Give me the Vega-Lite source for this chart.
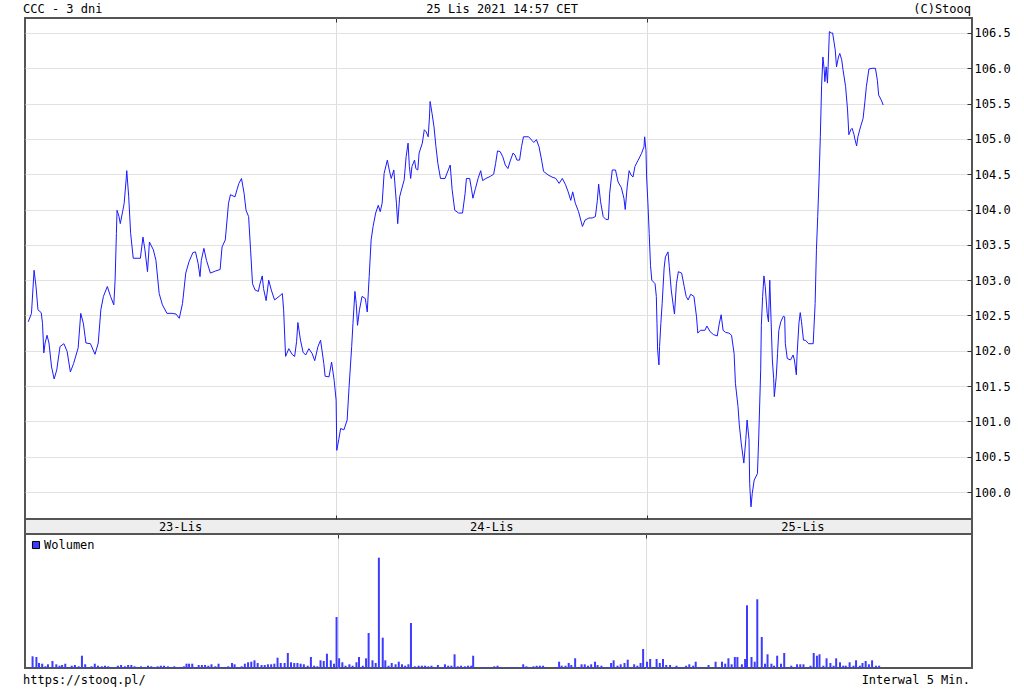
{
  "$schema": "https://vega.github.io/schema/vega-lite/v6.json",
  "background": "white",
  "padding": {"left": 23, "top": 0, "right": 0, "bottom": 0},
  "spacing": 0,
  "bounds": "flush",
  "resolve": {"scale": {"color": "independent"}, "legend": {"color": "independent"}},
  "config": {
    "view": {"stroke": null},
    "font": "DejaVu Sans Mono",
    "text": {"font": "DejaVu Sans Mono", "fontSize": 12, "color": "#000000"}
  },
  "datasets": {
    "header": [
      {"label": "CCC - 3 dni", "pos": "left"},
      {"label": "25 Lis 2021 14:57 CET", "pos": "center"},
      {"label": "(C)Stooq", "pos": "right"}
    ],
    "footer": [
      {"label": "https://stooq.pl/", "pos": "left"},
      {"label": "Interwal 5 Min.", "pos": "right"}
    ],
    "days": [
      {"day": "23-Lis", "mid": 240},
      {"day": "24-Lis", "mid": 720},
      {"day": "25-Lis", "mid": 1200}
    ],
    "price": [
      {"t":5,"p":102.41},{"t":10,"p":102.53},{"t":14,"p":103.14},{"t":17,"p":102.91},{"t":20,"p":102.58},{"t":25,"p":102.54},{"t":27,"p":102.39},{"t":29,"p":101.97},{"t":31,"p":102.11},{"t":34,"p":102.22},{"t":37,"p":102.11},{"t":41,"p":101.77},{"t":45,"p":101.60},{"t":49,"p":101.73},{"t":54,"p":102.06},{"t":60,"p":102.10},{"t":65,"p":101.99},{"t":70,"p":101.70},{"t":75,"p":101.82},{"t":82,"p":102.04},{"t":86,"p":102.53},{"t":90,"p":102.39},{"t":94,"p":102.11},{"t":101,"p":102.10},{"t":108,"p":101.95},{"t":113,"p":102.11},{"t":117,"p":102.58},{"t":121,"p":102.77},{"t":127,"p":102.91},{"t":132,"p":102.77},{"t":137,"p":102.65},{"t":139,"p":103.00},{"t":141,"p":103.66},{"t":142,"p":103.99},{"t":145,"p":103.90},{"t":147,"p":103.80},{"t":151,"p":103.99},{"t":153,"p":104.09},{"t":156,"p":104.42},{"t":157,"p":104.55},{"t":160,"p":104.18},{"t":163,"p":103.66},{"t":167,"p":103.31},{"t":173,"p":103.31},{"t":178,"p":103.31},{"t":182,"p":103.61},{"t":185,"p":103.43},{"t":189,"p":103.12},{"t":192,"p":103.54},{"t":198,"p":103.43},{"t":202,"p":103.28},{"t":207,"p":102.81},{"t":212,"p":102.65},{"t":219,"p":102.53},{"t":227,"p":102.53},{"t":233,"p":102.52},{"t":238,"p":102.46},{"t":243,"p":102.67},{"t":248,"p":103.10},{"t":253,"p":103.26},{"t":259,"p":103.39},{"t":263,"p":103.40},{"t":267,"p":103.24},{"t":270,"p":103.05},{"t":272,"p":103.28},{"t":276,"p":103.45},{"t":280,"p":103.28},{"t":286,"p":103.10},{"t":294,"p":103.13},{"t":301,"p":103.15},{"t":304,"p":103.47},{"t":309,"p":103.57},{"t":314,"p":104.09},{"t":317,"p":104.21},{"t":324,"p":104.18},{"t":327,"p":104.28},{"t":330,"p":104.37},{"t":334,"p":104.44},{"t":338,"p":104.23},{"t":341,"p":103.99},{"t":345,"p":103.90},{"t":348,"p":103.43},{"t":351,"p":102.95},{"t":355,"p":102.86},{"t":360,"p":102.84},{"t":362,"p":102.93},{"t":366,"p":103.06},{"t":368,"p":102.88},{"t":372,"p":102.71},{"t":376,"p":103.00},{"t":380,"p":102.86},{"t":385,"p":102.72},{"t":392,"p":102.77},{"t":397,"p":102.81},{"t":399,"p":102.58},{"t":402,"p":101.92},{"t":407,"p":102.03},{"t":412,"p":101.95},{"t":416,"p":101.92},{"t":419,"p":102.13},{"t":421,"p":102.40},{"t":425,"p":102.15},{"t":429,"p":101.98},{"t":433,"p":101.94},{"t":438,"p":102.03},{"t":443,"p":101.96},{"t":447,"p":101.86},{"t":452,"p":102.06},{"t":456,"p":102.15},{"t":461,"p":101.82},{"t":463,"p":101.64},{"t":469,"p":101.63},{"t":473,"p":101.84},{"t":477,"p":101.58},{"t":480,"p":101.30},{"t":481,"p":100.59},{"t":484,"p":100.74},{"t":487,"p":100.90},{"t":492,"p":100.88},{"t":497,"p":101.02},{"t":500,"p":101.49},{"t":504,"p":102.06},{"t":506,"p":102.39},{"t":509,"p":102.84},{"t":511,"p":102.67},{"t":513,"p":102.36},{"t":516,"p":102.58},{"t":520,"p":102.77},{"t":525,"p":102.74},{"t":528,"p":102.55},{"t":531,"p":103.05},{"t":534,"p":103.57},{"t":537,"p":103.76},{"t":541,"p":103.95},{"t":545,"p":104.06},{"t":548,"p":103.97},{"t":551,"p":104.09},{"t":554,"p":104.51},{"t":559,"p":104.70},{"t":562,"p":104.56},{"t":565,"p":104.44},{"t":569,"p":104.56},{"t":573,"p":104.09},{"t":575,"p":103.80},{"t":578,"p":104.18},{"t":582,"p":104.32},{"t":585,"p":104.42},{"t":588,"p":104.75},{"t":591,"p":104.94},{"t":593,"p":104.61},{"t":595,"p":104.44},{"t":597,"p":104.61},{"t":601,"p":104.70},{"t":603,"p":104.58},{"t":606,"p":104.56},{"t":608,"p":104.80},{"t":613,"p":104.94},{"t":616,"p":105.13},{"t":619,"p":105.10},{"t":622,"p":105.03},{"t":624,"p":105.31},{"t":625,"p":105.53},{"t":628,"p":105.36},{"t":631,"p":105.17},{"t":634,"p":104.89},{"t":637,"p":104.65},{"t":641,"p":104.44},{"t":648,"p":104.44},{"t":653,"p":104.56},{"t":656,"p":104.63},{"t":659,"p":104.28},{"t":663,"p":103.99},{"t":669,"p":103.95},{"t":675,"p":103.95},{"t":679,"p":104.23},{"t":681,"p":104.44},{"t":686,"p":104.44},{"t":689,"p":104.28},{"t":691,"p":104.16},{"t":695,"p":104.30},{"t":699,"p":104.44},{"t":703,"p":104.55},{"t":706,"p":104.41},{"t":711,"p":104.44},{"t":718,"p":104.47},{"t":723,"p":104.50},{"t":726,"p":104.65},{"t":729,"p":104.83},{"t":733,"p":104.82},{"t":737,"p":104.75},{"t":741,"p":104.63},{"t":745,"p":104.58},{"t":749,"p":104.70},{"t":753,"p":104.80},{"t":756,"p":104.77},{"t":759,"p":104.70},{"t":763,"p":104.70},{"t":766,"p":104.89},{"t":769,"p":105.03},{"t":777,"p":105.03},{"t":782,"p":104.98},{"t":785,"p":104.95},{"t":789,"p":104.99},{"t":793,"p":104.89},{"t":797,"p":104.70},{"t":800,"p":104.54},{"t":807,"p":104.49},{"t":813,"p":104.46},{"t":819,"p":104.44},{"t":824,"p":104.37},{"t":829,"p":104.44},{"t":834,"p":104.35},{"t":838,"p":104.25},{"t":842,"p":104.13},{"t":845,"p":104.25},{"t":849,"p":104.09},{"t":854,"p":103.97},{"t":860,"p":103.76},{"t":864,"p":103.85},{"t":870,"p":103.88},{"t":875,"p":103.88},{"t":880,"p":103.90},{"t":883,"p":104.13},{"t":885,"p":104.36},{"t":888,"p":104.11},{"t":892,"p":103.90},{"t":896,"p":103.86},{"t":900,"p":103.86},{"t":902,"p":104.23},{"t":906,"p":104.56},{"t":911,"p":104.56},{"t":915,"p":104.39},{"t":920,"p":104.31},{"t":924,"p":104.16},{"t":926,"p":104.00},{"t":929,"p":104.32},{"t":932,"p":104.55},{"t":935,"p":104.49},{"t":938,"p":104.46},{"t":941,"p":104.61},{"t":946,"p":104.70},{"t":951,"p":104.79},{"t":955,"p":104.89},{"t":956,"p":105.03},{"t":958,"p":104.84},{"t":959,"p":104.46},{"t":961,"p":104.09},{"t":963,"p":103.66},{"t":965,"p":103.21},{"t":967,"p":103.00},{"t":972,"p":102.95},{"t":974,"p":102.77},{"t":975,"p":102.39},{"t":976,"p":102.01},{"t":978,"p":101.80},{"t":979,"p":102.06},{"t":981,"p":102.39},{"t":983,"p":102.67},{"t":986,"p":103.17},{"t":988,"p":103.33},{"t":992,"p":103.40},{"t":994,"p":103.19},{"t":997,"p":102.86},{"t":1000,"p":102.65},{"t":1002,"p":102.52},{"t":1005,"p":102.95},{"t":1008,"p":103.12},{"t":1013,"p":103.10},{"t":1017,"p":102.91},{"t":1020,"p":102.77},{"t":1023,"p":102.72},{"t":1027,"p":102.80},{"t":1032,"p":102.77},{"t":1036,"p":102.48},{"t":1038,"p":102.25},{"t":1042,"p":102.29},{"t":1049,"p":102.29},{"t":1052,"p":102.35},{"t":1057,"p":102.27},{"t":1062,"p":102.23},{"t":1068,"p":102.21},{"t":1071,"p":102.38},{"t":1074,"p":102.51},{"t":1077,"p":102.29},{"t":1081,"p":102.26},{"t":1086,"p":102.25},{"t":1090,"p":102.22},{"t":1094,"p":101.96},{"t":1096,"p":101.54},{"t":1100,"p":101.21},{"t":1102,"p":100.95},{"t":1105,"p":100.69},{"t":1109,"p":100.41},{"t":1112,"p":100.74},{"t":1114,"p":101.02},{"t":1117,"p":100.74},{"t":1118,"p":100.12},{"t":1120,"p":99.79},{"t":1122,"p":99.98},{"t":1125,"p":100.17},{"t":1130,"p":100.26},{"t":1132,"p":100.78},{"t":1135,"p":101.73},{"t":1136,"p":102.36},{"t":1138,"p":102.77},{"t":1140,"p":103.06},{"t":1142,"p":102.91},{"t":1145,"p":102.53},{"t":1147,"p":102.41},{"t":1149,"p":103.00},{"t":1150,"p":102.72},{"t":1153,"p":101.87},{"t":1155,"p":101.61},{"t":1156,"p":101.35},{"t":1159,"p":101.63},{"t":1161,"p":101.96},{"t":1163,"p":102.29},{"t":1166,"p":102.41},{"t":1170,"p":102.49},{"t":1172,"p":102.48},{"t":1173,"p":102.10},{"t":1176,"p":101.89},{"t":1181,"p":101.87},{"t":1185,"p":101.94},{"t":1187,"p":101.87},{"t":1190,"p":101.66},{"t":1191,"p":101.92},{"t":1194,"p":102.39},{"t":1196,"p":102.54},{"t":1198,"p":102.41},{"t":1201,"p":102.15},{"t":1204,"p":102.15},{"t":1209,"p":102.10},{"t":1216,"p":102.10},{"t":1217,"p":102.29},{"t":1219,"p":102.67},{"t":1221,"p":103.43},{"t":1223,"p":103.90},{"t":1225,"p":104.42},{"t":1227,"p":105.03},{"t":1229,"p":105.76},{"t":1231,"p":106.16},{"t":1233,"p":105.98},{"t":1234,"p":105.81},{"t":1236,"p":106.02},{"t":1238,"p":105.79},{"t":1239,"p":106.02},{"t":1241,"p":106.52},{"t":1244,"p":106.50},{"t":1246,"p":106.50},{"t":1250,"p":106.26},{"t":1252,"p":106.02},{"t":1255,"p":106.16},{"t":1257,"p":106.21},{"t":1260,"p":106.12},{"t":1262,"p":105.98},{"t":1266,"p":105.74},{"t":1269,"p":105.41},{"t":1271,"p":105.06},{"t":1274,"p":105.13},{"t":1276,"p":105.15},{"t":1279,"p":105.06},{"t":1280,"p":105.01},{"t":1283,"p":104.90},{"t":1285,"p":105.03},{"t":1289,"p":105.17},{"t":1293,"p":105.29},{"t":1296,"p":105.55},{"t":1298,"p":105.74},{"t":1302,"p":105.99},{"t":1307,"p":106.00},{"t":1312,"p":106.00},{"t":1315,"p":105.83},{"t":1317,"p":105.62},{"t":1321,"p":105.55},{"t":1324,"p":105.48}
    ],
    "volume": [
      {"t":4,"v":1170},{"t":10,"v":1100},{"t":14,"v":500},{"t":19,"v":430},{"t":24,"v":170},{"t":28,"v":370},{"t":35,"v":700},{"t":41,"v":370},{"t":46,"v":230},{"t":50,"v":300},{"t":55,"v":430},{"t":60,"v":100},{"t":65,"v":230},{"t":70,"v":300},{"t":76,"v":170},{"t":81,"v":1230},{"t":86,"v":370},{"t":91,"v":100},{"t":96,"v":170},{"t":101,"v":430},{"t":106,"v":230},{"t":112,"v":170},{"t":117,"v":230},{"t":122,"v":170},{"t":127,"v":100},{"t":132,"v":100},{"t":137,"v":230},{"t":142,"v":300},{"t":148,"v":170},{"t":153,"v":300},{"t":158,"v":300},{"t":163,"v":170},{"t":168,"v":100},{"t":173,"v":170},{"t":179,"v":100},{"t":184,"v":230},{"t":189,"v":170},{"t":194,"v":100},{"t":199,"v":170},{"t":204,"v":230},{"t":209,"v":230},{"t":215,"v":170},{"t":220,"v":100},{"t":225,"v":170},{"t":230,"v":100},{"t":235,"v":100},{"t":240,"v":170},{"t":244,"v":430},{"t":248,"v":430},{"t":253,"v":430},{"t":258,"v":100},{"t":263,"v":300},{"t":268,"v":300},{"t":273,"v":300},{"t":278,"v":230},{"t":283,"v":370},{"t":289,"v":170},{"t":294,"v":430},{"t":299,"v":100},{"t":304,"v":100},{"t":309,"v":170},{"t":315,"v":500},{"t":319,"v":370},{"t":325,"v":100},{"t":330,"v":170},{"t":335,"v":430},{"t":340,"v":570},{"t":345,"v":630},{"t":350,"v":770},{"t":355,"v":500},{"t":361,"v":300},{"t":366,"v":300},{"t":371,"v":370},{"t":376,"v":370},{"t":381,"v":430},{"t":386,"v":1030},{"t":391,"v":500},{"t":397,"v":500},{"t":402,"v":1500},{"t":407,"v":570},{"t":412,"v":500},{"t":417,"v":500},{"t":422,"v":430},{"t":427,"v":370},{"t":433,"v":230},{"t":438,"v":1100},{"t":443,"v":230},{"t":448,"v":170},{"t":453,"v":770},{"t":458,"v":700},{"t":463,"v":1430},{"t":469,"v":770},{"t":474,"v":430},{"t":478,"v":5100},{"t":482,"v":970},{"t":487,"v":570},
      {"t":492,"v":230},{"t":498,"v":370},{"t":503,"v":230},{"t":509,"v":570},{"t":513,"v":1100},{"t":519,"v":230},{"t":524,"v":970},{"t":528,"v":3500},{"t":534,"v":770},{"t":539,"v":500},{"t":544,"v":11030},{"t":550,"v":3030},{"t":554,"v":770},{"t":559,"v":230},{"t":564,"v":500},{"t":570,"v":370},{"t":575,"v":630},{"t":580,"v":370},{"t":585,"v":230},{"t":590,"v":370},{"t":594,"v":4500},{"t":600,"v":170},{"t":606,"v":230},{"t":611,"v":230},{"t":616,"v":230},{"t":621,"v":170},{"t":626,"v":230},{"t":631,"v":100},{"t":636,"v":300},{"t":642,"v":100},{"t":647,"v":370},{"t":652,"v":230},{"t":657,"v":230},{"t":662,"v":1370},{"t":667,"v":170},{"t":672,"v":230},{"t":678,"v":170},{"t":683,"v":230},{"t":688,"v":230},{"t":691,"v":1230},{"t":703,"v":100},{"t":708,"v":100},{"t":714,"v":100},{"t":724,"v":170},{"t":729,"v":230},{"t":734,"v":100},{"t":744,"v":100},{"t":750,"v":100},{"t":755,"v":100},{"t":760,"v":100},{"t":765,"v":100},{"t":769,"v":370},{"t":774,"v":170},{"t":779,"v":100},{"t":785,"v":170},{"t":790,"v":230},{"t":795,"v":230},{"t":800,"v":230},{"t":805,"v":100},{"t":820,"v":100},{"t":825,"v":630},{"t":829,"v":230},{"t":835,"v":230},{"t":840,"v":500},{"t":844,"v":300},{"t":850,"v":970},{"t":856,"v":100},{"t":860,"v":370},{"t":865,"v":370},{"t":870,"v":230},{"t":875,"v":370},{"t":881,"v":630},{"t":885,"v":300},{"t":891,"v":230},{"t":896,"v":100},{"t":901,"v":100},{"t":906,"v":500},{"t":910,"v":770},{"t":916,"v":230},{"t":921,"v":370},{"t":927,"v":500},{"t":932,"v":830},{"t":937,"v":100},{"t":942,"v":370},{"t":947,"v":230},{"t":952,"v":500},{"t":956,"v":1900},{"t":962,"v":630},{"t":967,"v":900},
      {"t":972,"v":100},{"t":977,"v":900},{"t":982,"v":500},{"t":987,"v":900},{"t":992,"v":300},{"t":998,"v":300},{"t":1003,"v":100},{"t":1008,"v":230},{"t":1013,"v":100},{"t":1018,"v":100},{"t":1023,"v":230},{"t":1028,"v":370},{"t":1034,"v":230},{"t":1038,"v":630},{"t":1043,"v":100},{"t":1048,"v":100},{"t":1053,"v":100},{"t":1058,"v":300},{"t":1069,"v":630},{"t":1074,"v":100},{"t":1079,"v":630},{"t":1084,"v":430},{"t":1089,"v":970},{"t":1094,"v":370},{"t":1099,"v":1100},{"t":1103,"v":1100},{"t":1110,"v":370},{"t":1115,"v":900},{"t":1118,"v":6270},{"t":1125,"v":1100},{"t":1130,"v":630},{"t":1134,"v":6870},{"t":1141,"v":3100},{"t":1146,"v":430},{"t":1150,"v":1370},{"t":1156,"v":430},{"t":1160,"v":230},{"t":1165,"v":1230},{"t":1171,"v":430},{"t":1176,"v":1500},{"t":1181,"v":100},{"t":1187,"v":230},{"t":1192,"v":100},{"t":1196,"v":370},{"t":1201,"v":370},{"t":1206,"v":370},{"t":1212,"v":100},{"t":1217,"v":230},{"t":1222,"v":1500},{"t":1227,"v":1230},{"t":1231,"v":1370},{"t":1237,"v":230},{"t":1242,"v":970},{"t":1248,"v":500},{"t":1253,"v":230},{"t":1257,"v":970},{"t":1263,"v":570},{"t":1268,"v":230},{"t":1272,"v":230},{"t":1278,"v":570},{"t":1284,"v":230},{"t":1288,"v":770},{"t":1294,"v":230},{"t":1298,"v":500},{"t":1303,"v":700},{"t":1308,"v":370},{"t":1313,"v":770},{"t":1319,"v":230},{"t":1324,"v":230}
    ]
  },
  "vconcat": [
    {
      "width": 947,
      "height": 18,
      "data": {"name": "header"},
      "layer": [
        {
          "transform": [{"filter": "datum.pos === 'left'"}],
          "mark": {"type": "text", "align": "left", "dx": -2},
          "encoding": {
            "x": {"datum": 0, "type": "quantitative", "scale": {"domain": [0, 1461], "nice": false, "zero": false}, "axis": null},
            "text": {"field": "label"}
          }
        },
        {
          "transform": [{"filter": "datum.pos === 'center'"}],
          "mark": {"type": "text", "align": "center", "dx": 4},
          "encoding": {
            "x": {"datum": 730, "type": "quantitative", "axis": null},
            "text": {"field": "label"}
          }
        },
        {
          "transform": [{"filter": "datum.pos === 'right'"}],
          "mark": {"type": "text", "align": "right", "dx": -1},
          "encoding": {
            "x": {"datum": 1461, "type": "quantitative", "axis": null},
            "text": {"field": "label"}
          }
        }
      ]
    },
    {
      "width": 947,
      "height": 501,
      "view": {"stroke": "#555555", "strokeWidth": 2},
      "data": {"name": "price"},
      "mark": {"type": "line", "color": "#1a1aff", "strokeWidth": 1},
      "encoding": {
        "x": {
          "field": "t", "type": "quantitative",
          "scale": {"domain": [0, 1461], "nice": false, "zero": false},
          "axis": {"orient": "top", "values": [480, 960], "grid": true, "gridColor": "#dddddd", "labels": false, "ticks": true, "tickSize": -4, "tickColor": "#333333", "domain": false, "title": null}
        },
        "y": {
          "field": "p", "type": "quantitative",
          "scale": {"domain": [99.618, 106.712], "nice": false, "zero": false},
          "axis": {
            "orient": "right", "title": null, "domain": false, "format": ".1f",
            "values": [100, 100.5, 101, 101.5, 102, 102.5, 103, 103.5, 104, 104.5, 105, 105.5, 106, 106.5],
            "grid": true, "gridColor": "#e2e2e2",
            "tickColor": "#333333", "tickSize": -5, "labelPadding": 7,
            "labelFont": "DejaVu Sans Mono", "labelFontSize": 12, "labelColor": "#000000"
          }
        }
      }
    },
    {
      "width": 947,
      "height": 15,
      "view": {"fill": "#eeeeee", "stroke": "#555555", "strokeWidth": 2},
      "data": {"name": "days"},
      "mark": {"type": "text", "fontSize": 12},
      "encoding": {
        "x": {"field": "mid", "type": "quantitative", "scale": {"domain": [0, 1461], "nice": false, "zero": false},
          "axis": {"orient": "top", "values": [480, 960], "grid": false, "labels": false, "ticks": true, "tickSize": 4, "tickColor": "#333333", "domain": false, "title": null}},
        "text": {"field": "day"}
      }
    },
    {
      "width": 947,
      "height": 134,
      "view": {"stroke": "#555555", "strokeWidth": 2},
      "data": {"name": "volume"},
      "mark": {"type": "bar", "size": 2},
      "encoding": {
        "x": {
          "field": "t", "type": "quantitative",
          "scale": {"domain": [0, 1461], "nice": false, "zero": false},
          "axis": {"orient": "top", "values": [480, 960], "grid": true, "gridColor": "#dddddd", "labels": false, "ticks": true, "tickSize": -4, "tickColor": "#333333", "domain": false, "title": null}
        },
        "y": {"field": "v", "type": "quantitative", "scale": {"domain": [0, 13400], "nice": false}, "axis": null},
        "color": {
          "datum": "Wolumen", "type": "nominal",
          "scale": {"range": ["#3c3cff"]},
          "legend": {
            "orient": "top-left", "title": null, "offset": 5, "padding": 0, "labelOffset": 2,
            "symbolType": "square", "symbolSize": 50, "symbolStrokeColor": "#000000", "symbolStrokeWidth": 1,
            "labelFont": "DejaVu Sans Mono", "labelFontSize": 12, "labelColor": "#000000"
          }
        }
      }
    },
    {
      "width": 947,
      "height": 24,
      "data": {"name": "footer"},
      "layer": [
        {
          "transform": [{"filter": "datum.pos === 'left'"}],
          "mark": {"type": "text", "align": "left", "dx": -2},
          "encoding": {
            "x": {"datum": 0, "type": "quantitative", "scale": {"domain": [0, 1461], "nice": false, "zero": false}, "axis": null},
            "text": {"field": "label"}
          }
        },
        {
          "transform": [{"filter": "datum.pos === 'right'"}],
          "mark": {"type": "text", "align": "right", "dx": -2},
          "encoding": {
            "x": {"datum": 1461, "type": "quantitative", "axis": null},
            "text": {"field": "label"}
          }
        }
      ]
    }
  ]
}
